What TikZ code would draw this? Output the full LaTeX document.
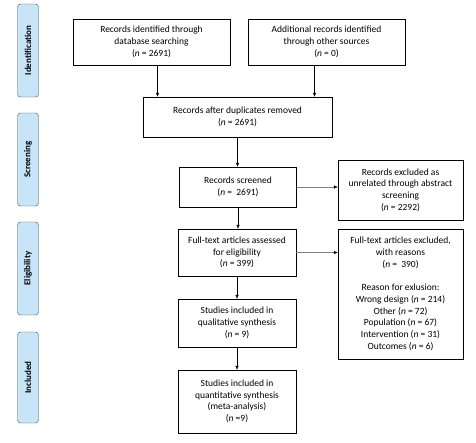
\documentclass[tikz,border=0pt]{standalone}
\usepackage{fontspec}
\setmainfont{Carlito}
\usetikzlibrary{arrows.meta}
\definecolor{phasefill}{RGB}{200,228,247}
\definecolor{phaseline}{RGB}{70,80,90}
\newcommand{\ncount}{\textit{n}}
\tikzset{
  flowbox/.style={draw, thin, align=center, inner sep=2pt, font=\fontsize{9.5}{11.7}\selectfont},
  phasebar/.style={draw=phaseline, fill=phasefill, rounded corners=3pt, minimum height=21pt, rotate=90, font=\bfseries\fontsize{9}{10}\selectfont},
  down/.style={-{Latex[length=4pt,width=3.5pt]}},
  side/.style={draw=gray, -{Latex[length=4pt,width=3.5pt,color=black]}}
}
\begin{document}
\begin{tikzpicture}[x=1pt,y=-1pt]
  \useasboundingbox (0,0) rectangle (476,442);
     % phase labels
     \node[name=id, phasebar, minimum width=93pt] at (28,50.5){Identification};
     \node[name=scr, phasebar, minimum width=93pt] at (28,159.5){Screening};
     \node[name=elig, phasebar, minimum width=93pt] at (28,268.5){Eligibility};
     \node[name=inc, phasebar, minimum width=91pt] at (28,377.5){Included};
     % boxes
     \node[name=dbs, flowbox, minimum width=157pt, minimum height=46pt] at (151.5,42){Records identified through\\database searching\\(\ncount{} = 2691)};
     \node[name=oth, flowbox, minimum width=157pt, minimum height=46pt] at (326.5,42){Additional records identified\\through other sources\\(\ncount{} = 0)};
     \node[name=dup, flowbox, minimum width=189pt, minimum height=40pt] at (237.5,117){Records after duplicates removed\\(\ncount{} = 2691)};
     \node[name=scrn, flowbox, minimum width=117pt, minimum height=40pt] at (238,187){Records screened\\(\ncount{} =\ \ 2691)};
     \node[name=abs, flowbox, minimum width=125pt, minimum height=60pt] at (400.5,190){Records excluded as\\unrelated through abstract\\screening\\(\ncount{} = 2292)};
     \node[name=full, flowbox, minimum width=118pt, minimum height=47pt] at (237,252.5){Full-text articles assessed\\for eligibility\\(\ncount{} = 399)};
     \node[name=excl, flowbox, minimum width=125pt, minimum height=130pt] at (400.5,294){Full-text articles excluded,\\with reasons\\(\ncount{} =\ \ 390)\\[11.7pt]Reason for exlusion:\\Wrong design (\ncount{} = 214)\\Other (\ncount{} = 72)\\Population (\ncount{} = 67)\\Intervention (\ncount{} = 31)\\Outcomes (\ncount{} = 6)};
     \node[name=qual, flowbox, minimum width=118pt, minimum height=48pt] at (237,323){Studies included in\\qualitative synthesis\\(\ncount{} = 9)};
     \node[name=quan, flowbox, minimum width=118pt, minimum height=63pt] at (237,401.5){Studies included in\\quantitative synthesis\\(meta-analysis)\\(\ncount{} =9)};
     % arrows
     \draw[down] ([xshift=6pt]dbs.south) -- ([xshift=6pt]dbs.south |- dup.north);
     \draw[down] ([xshift=-12pt]oth.south) -- ([xshift=-12pt]oth.south |- dup.north);
     \draw[down] (dup.south) -- (dup.south |- scrn.north);
     \draw[side] (scrn.east) -- (scrn.east -| abs.west);
     \draw[down] (scrn.south) -- (scrn.south |- full.north);
     \draw[side] (full.east) -- (full.east -| excl.west);
     \draw[down] (full.south) -- (qual.north);
     \draw[down] (qual.south) -- (quan.north);
  \end{tikzpicture}
\end{document}
